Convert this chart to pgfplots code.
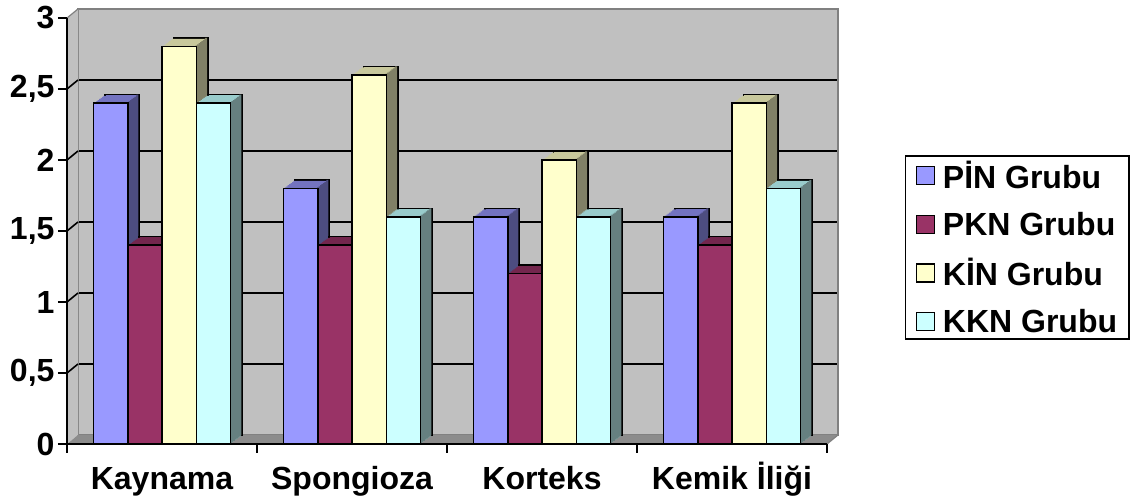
\documentclass[border=0pt]{standalone}
\usepackage{fontspec}
\setmainfont{Liberation Sans}
\usepackage{pgfplots}
\pgfplotsset{compat=1.18}
\usepackage{pgfplotstable}

\definecolor{pinF}{HTML}{9999FF}\definecolor{pinT}{HTML}{7373C0}\definecolor{pinS}{HTML}{4D4D80}
\definecolor{pknF}{HTML}{993366}\definecolor{pknT}{HTML}{73264D}\definecolor{pknS}{HTML}{4D1A33}
\definecolor{kinF}{HTML}{FFFFCC}\definecolor{kinT}{HTML}{C8C89C}\definecolor{kinS}{HTML}{808066}
\definecolor{kknF}{HTML}{CCFFFF}\definecolor{kknT}{HTML}{99CCCC}\definecolor{kknS}{HTML}{668080}
\definecolor{wallc}{HTML}{C0C0C0}\definecolor{floorc}{HTML}{8C8C8C}\definecolor{edgec}{HTML}{808080}

\pgfplotstableread{
x pin pkn kin kkn
0 2.4 1.4 2.8 2.4
1 1.8 1.4 2.6 1.6
2 1.6 1.2 2.0 1.6
3 1.6 1.4 2.4 1.8
}\datatable

\newcommand{\bigfont}{\fontsize{32}{32}\selectfont\bfseries}

% #1 column, #2 bar shift, #3 side shift, #4 side shift at back, #5 front, #6 top, #7 side
\newcommand{\threedbars}[7]{%
  \addplot[forget plot, ybar, bar width=34.3pt, bar shift=#2pt, fill=#6, draw=black, line width=1.5pt,
     xshift=11.5pt, yshift=8.5pt] table[x=x,y=#1]{\datatable};
  \pgfplotsinvokeforeach{1,...,7}{%
    \addplot[forget plot, ybar, bar width=34.3pt, bar shift=#2pt, fill=#6, draw=none,
       xshift=##1*1.4375pt, yshift=##1*1.0625pt] table[x=x,y=#1]{\datatable};
  }
  \addplot[forget plot, ybar, bar width=2pt, bar shift=#4pt, fill=#7, draw=none,
     xshift=11.5pt, yshift=8.5pt] table[x=x,y=#1]{\datatable};
  \pgfplotsinvokeforeach{1,...,7}{%
    \addplot[forget plot, ybar, bar width=2pt, bar shift=#3pt, fill=#7, draw=none,
       xshift=##1*1.4375pt, yshift=##1*1.0625pt] table[x=x,y=#1]{\datatable};
  }
  \addplot[forget plot, ybar, bar width=34.3pt, bar shift=#2pt, fill=#5, draw=black, line width=1.6pt]
     table[x=x,y=#1]{\datatable};
}

\begin{document}
\begin{tikzpicture}
\useasboundingbox (0pt,0pt) rectangle (1138pt,502pt);

% back wall
\begin{axis}[
  at={(78pt,67pt)}, anchor=south west, scale only axis,
  width=760pt, height=426pt,
  xmin=-0.5, xmax=3.5, ymin=0, ymax=3,
  axis background/.style={fill=wallc},
  axis line style={edgec, line width=1.5pt},
  xtick=\empty, ytick={0.5,1,...,2.5}, yticklabels={},
  major tick length=0pt,
  ymajorgrids, grid style={black, line width=1.6pt},
]
\end{axis}

% left wall and floor
\fill[wallc] (67pt,58pt) -- (78pt,67pt) -- (78pt,493pt) -- (67pt,484pt) -- cycle;
\fill[floorc] (67pt,58pt) -- (827pt,58pt) -- (838pt,67pt) -- (78pt,67pt) -- cycle;
\draw[edgec, line width=1.2pt] (67pt,484pt) -- (78pt,493pt);
\draw[edgec, line width=1.2pt] (827pt,58pt) -- (838pt,67pt);
\foreach \v in {0.5,1,1.5,2,2.5}{
  \draw[black, line width=1.6pt] (67pt,58pt+142*\v pt) -- (78pt,67pt+142*\v pt);
}

% front axis with bars
\begin{axis}[
  at={(67pt,58pt)}, anchor=south west, scale only axis,
  width=760pt, height=426pt,
  xmin=-0.5, xmax=3.5, ymin=0, ymax=3, clip=false,
  axis lines*=left,
  axis line style={black, line width=1.8pt},
  tick align=outside, major tick length=9pt,
  tick style={black, line width=1.6pt},
  xtick={-0.5,0.5,1.5,2.5,3.5}, xticklabels={},
  extra x ticks={0,1,2,3},
  extra x tick labels={Kaynama,Spongioza,Korteks,Kemik İliği},
  extra x tick style={major tick length=0pt,
    xticklabel style={text height=23pt, text depth=7pt, yshift=-19pt}},
  ytick={0,0.5,1,1.5,2,2.5,3},
  yticklabels={0,{0,5},1,{1,5},2,{2,5},3},
  tick label style={font=\bigfont},
  legend style={at={(1.1026,0.678)}, anchor=north west, draw=black, line width=1.5pt,
    font=\bigfont, row sep=18pt, column sep=6pt, inner xsep=10pt, inner ysep=3pt},
  legend cell align=left,
]
\threedbars{pin}{-51.45}{-35.3}{-36.05}{pinF}{pinT}{pinS}
\threedbars{pkn}{-17.15}{-1.0}{-1.75}{pknF}{pknT}{pknS}
\threedbars{kin}{17.15}{33.3}{32.55}{kinF}{kinT}{kinS}
\threedbars{kkn}{51.45}{67.6}{66.85}{kknF}{kknT}{kknS}

\addlegendimage{legend image code/.code={\draw[fill=pinF,draw=black,line width=1.2pt] (0pt,-9pt) rectangle (18pt,9pt);}}
\addlegendentry{PİN Grubu}
\addlegendimage{legend image code/.code={\draw[fill=pknF,draw=black,line width=1.2pt] (0pt,-9pt) rectangle (18pt,9pt);}}
\addlegendentry{PKN Grubu}
\addlegendimage{legend image code/.code={\draw[fill=kinF,draw=black,line width=1.2pt] (0pt,-9pt) rectangle (18pt,9pt);}}
\addlegendentry{KİN Grubu}
\addlegendimage{legend image code/.code={\draw[fill=kknF,draw=black,line width=1.2pt] (0pt,-9pt) rectangle (18pt,9pt);}}
\addlegendentry{KKN Grubu}
\end{axis}
\end{tikzpicture}
\end{document}
